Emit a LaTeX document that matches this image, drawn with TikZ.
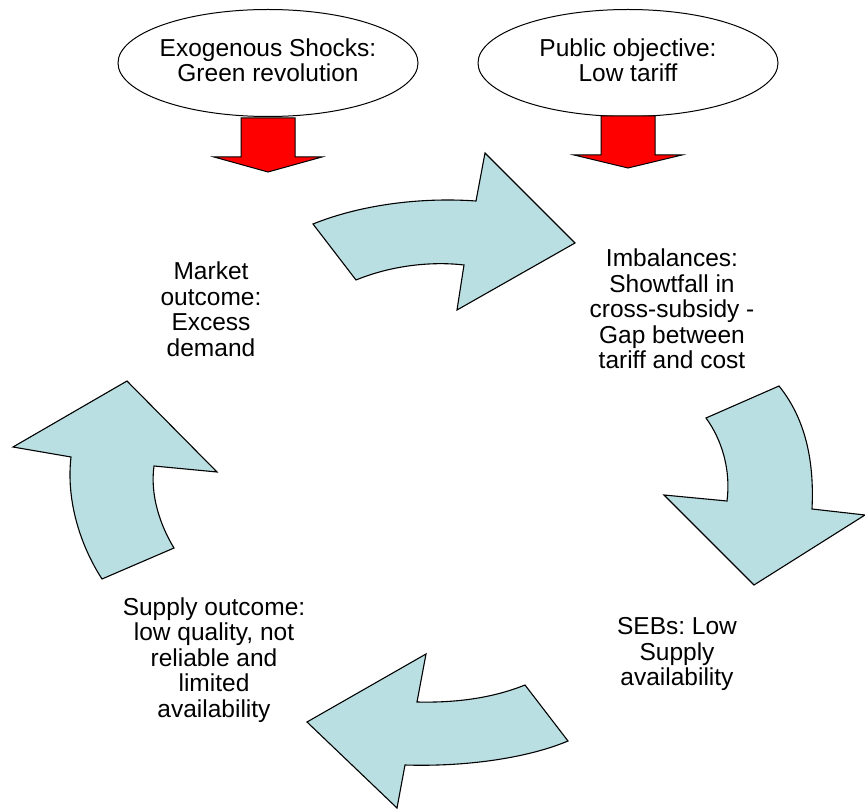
\documentclass[tikz,border=0pt]{standalone}
\usepackage{fontspec}
\setmainfont{Liberation Sans}
\usepackage{xcolor}
\usepackage{tikz}
\usetikzlibrary{positioning,shapes.geometric}
\definecolor{cyclecol}{HTML}{B9DFE2}
\frenchspacing

\begin{document}
\begin{tikzpicture}[x=1pt,y=-1pt,
	txt/.style={align=center,font=\fontsize{24.5}{25.5}\selectfont},
	goal/.style={draw,ellipse,line width=1pt,minimum width=300pt,minimum height=107pt},
	push/.style={draw,fill=red,line width=1pt},
	turn/.style={draw,fill=cyclecol,line width=1.1pt,line join=miter}]
	\useasboundingbox (0,0) rectangle (865,810);
	% Schocks
	\node[goal] (shock) at (268,63) {};
	\node[txt,yshift=3pt] (shocktxt) at (shock.center) {Exogenous Shocks:\\Green revolution};
	% Ziel
	\node[goal] (goal) at (628,63) {};
	\node[txt,yshift=3pt] (goaltxt) at (goal.center) {Public objective:\\Low tariff};
	
	% rote Pfeile
	\draw[push,shift={(shock.south)}] (-27,1) -- (-27,40) -- (-54,40) -- (0,55) -- (54,40) -- (27,40) -- (27,1) -- cycle;
	\draw[push,shift={(goal.south)}] (-27,-1) -- (-27,38) -- (-54,38) -- (0,51) -- (54,38) -- (27,38) -- (27,-1) -- cycle;
	
	% Kreislauf
	\node[txt] (imbal) at (672,309) {Imbalances:\\Showtfall in\\cross-subsidy -\\Gap between\\tariff and cost};
	\node[txt] (sebs) at (677,654) {SEBs: Low\\Supply\\availability};
	\node[txt] (supply) at (214,660) {Supply outcome:\\low quality, not\\reliable and\\limited\\availability};
	\node[txt] (market) at (211,309) {Market\\outcome:\\Excess\\demand};
	
	% gebogene Pfeile
	\draw[turn] (313,224) .. controls (360,205) and (420,197) .. (476,201) -- (485,153) -- (575,243) -- (457,310) -- (464,265) .. controls (430,261) and (390,266) .. (356,280) -- cycle;
	\draw[turn] (779,386) .. controls (800,412) and (815,450) .. (812,509) -- (865,515) -- (754,585) -- (664,495) -- (727,501) .. controls (731,470) and (722,440) .. (706,418) -- cycle;
	\draw[turn] (307,722) -- (426,654) -- (417,702) .. controls (460,703) and (495,697) .. (525,685) -- (568,741) .. controls (530,757) and (470,767) .. (405,765) -- (397,808) -- cycle;
	\draw[turn] (127,381) -- (217,472) -- (154,466) .. controls (150,495) and (160,525) .. (174,548) -- (102,579) .. controls (80,545) and (66,500) .. (71,457) -- (13,447) -- cycle;
\end{tikzpicture}
\end{document}
